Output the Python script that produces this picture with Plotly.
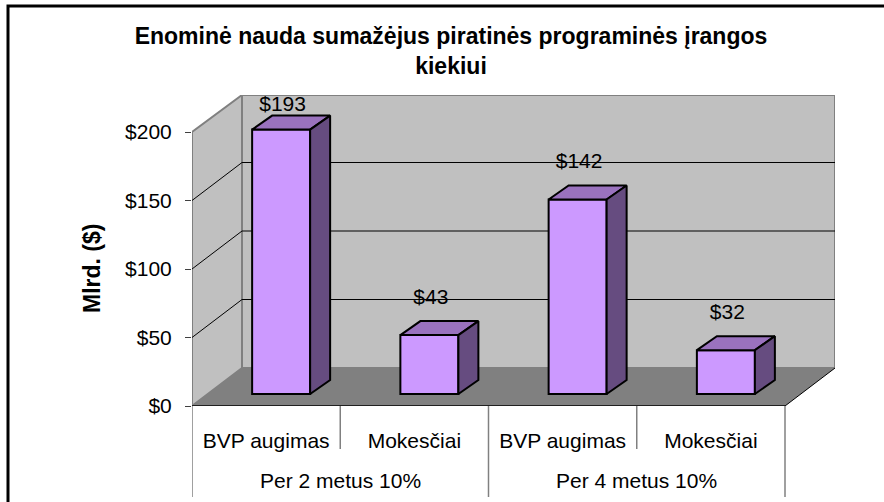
import plotly.graph_objects as go

# chart values
categories = ['BVP augimas', 'Mokesčiai', 'BVP augimas', 'Mokesčiai']
groups = ['Per 2 metus 10%', 'Per 4 metus 10%']
values = [193, 43, 142, 32]
y_ticks = [0, 50, 100, 150, 200]
y_ticklabels = ['$0', '$50', '$100', '$150', '$200']

W, H = 884, 502
LEFT, RIGHT, TOP, BOTTOM = 192, 835, 95, 406
CAT_PX = 148.25
Y_PX = 1.37

# 3D look, everything in axis units
wall_dx = 50 / CAT_PX
wall_dy = 38 / Y_PX
bar_dx = 15 / CAT_PX
bar_dy = 12 / Y_PX
top_dx = 20 / CAT_PX
top_dy = 14 / Y_PX
bar_w = 58 / CAT_PX

x_max = (RIGHT - LEFT) / CAT_PX
y_max = (BOTTOM - TOP) / Y_PX
n = len(categories)
cat_pos = [i + 0.5 for i in range(n)]
bar_pos = [p + bar_dx for p in cat_pos]

FONT = 'Liberation Sans, Arial, sans-serif'
BAR_FRONT = '#CC99FF'
BAR_TOP = '#9A72BE'
BAR_SIDE = '#664C80'
WALL = '#C0C0C0'
FLOOR = '#808080'


def poly(points):
    return 'M ' + ' L '.join(f'{x},{y}' for x, y in points) + ' Z'


def line(x0, y0, x1, y1, color, width, **kw):
    return dict(type='line', x0=x0, y0=y0, x1=x1, y1=y1, layer='below',
                line=dict(color=color, width=width), **kw)


shapes = [
    # back wall, side wall, floor
    dict(type='path', path=poly([(wall_dx, wall_dy), (x_max, wall_dy), (x_max, y_max), (wall_dx, y_max)]),
         fillcolor=WALL, line=dict(color=FLOOR, width=2), layer='below'),
    dict(type='path', path=poly([(0, 0), (wall_dx, wall_dy), (wall_dx, y_max), (0, 200)]),
         fillcolor=WALL, line=dict(color=FLOOR, width=2), layer='below'),
    dict(type='path', path=poly([(0, 0), (n, 0), (x_max, wall_dy), (wall_dx, wall_dy)]),
         fillcolor=FLOOR, line=dict(width=0), layer='below'),
    line(0, 0, n, 0, 'black', 1.5),
    line(n, 0, x_max, wall_dy, 'black', 1),
]
for v in y_ticks[1:-1]:
    shapes.append(line(0, v, wall_dx, v + wall_dy, 'black', 1))
    shapes.append(line(wall_dx, v + wall_dy, x_max, v + wall_dy, 'black', 1))

# dividers under the floor, the group ones run longer
for i in range(n + 1):
    y_end = 497 if i % 2 == 0 else 449
    shapes.append(dict(type='line', xref='x', yref='paper', x0=i, x1=i,
                       y0=1 - BOTTOM / H, y1=1 - y_end / H,
                       line=dict(color=FLOOR, width=1.5)))

# outer frame, cut off by the picture at right and bottom
shapes.append(dict(type='rect', xref='paper', yref='paper', x0=8 / W, x1=1.02, y0=-0.02, y1=1 - 6 / H,
                   line=dict(color='black', width=3), layer='below'))

top_x, top_y, side_x, side_y = [], [], [], []
for p, v in zip(bar_pos, values):
    l, r = p - bar_w / 2, p + bar_w / 2
    t = v + bar_dy
    top_x += [l, r, r + top_dx, l + top_dx, l, None]
    top_y += [t, t, t + top_dy, t + top_dy, t, None]
    side_x += [r, r + top_dx, r + top_dx, r, r, None]
    side_y += [bar_dy, bar_dy + top_dy, t + top_dy, t, bar_dy, None]

label_y = [min(v + 35.5, 219) for v in values]

fig = go.Figure()
fig.add_trace(go.Bar(x=bar_pos, y=values, base=bar_dy, width=bar_w,
                     marker=dict(color=BAR_FRONT, line=dict(color='black', width=2))))
fig.add_trace(go.Scatter(x=top_x, y=top_y, mode='lines', fill='toself', fillcolor=BAR_TOP,
                         line=dict(color='black', width=2)))
fig.add_trace(go.Scatter(x=side_x, y=side_y, mode='lines', fill='toself', fillcolor=BAR_SIDE,
                         line=dict(color='black', width=2)))
fig.add_trace(go.Scatter(x=[p + 0.01 for p in bar_pos], y=label_y, mode='text',
                         text=[f'${v}' for v in values], textposition='middle center',
                         textfont=dict(family=FONT, size=21, color='black')))

annotations = [
    dict(text='Mlrd. ($)', textangle=-90, xref='paper', yref='paper', x=92 / W, y=1 - 269 / H,
         xanchor='center', yanchor='middle', showarrow=False,
         font=dict(family=FONT, size=23, color='black', weight='bold')),
]
for i, g in enumerate(groups):
    annotations.append(dict(text=g, xref='x', yref='paper', x=2 * i + 1, y=1 - 480 / H,
                            xanchor='center', yanchor='middle', showarrow=False,
                            font=dict(family=FONT, size=21, color='black')))

fig.update_layout(
    width=W, height=H,
    margin=dict(l=0, r=0, t=0, b=0),
    paper_bgcolor='white', plot_bgcolor='rgba(0,0,0,0)',
    showlegend=False,
    title=dict(text='Enominė nauda sumažėjus piratinės programinės įrangos<br>kiekiui',
               x=451 / W, xanchor='center', y=1 - 44 / H, yanchor='top', automargin=False,
               font=dict(family=FONT, size=23, color='black', weight='bold')),
    xaxis=dict(domain=[LEFT / W, RIGHT / W], range=[0, x_max], showgrid=False, zeroline=False,
               automargin=False,
               tickvals=cat_pos, ticktext=categories, ticks='outside', ticklen=16,
               tickcolor='rgba(0,0,0,0)', tickfont=dict(family=FONT, size=21, color='black')),
    yaxis=dict(domain=[1 - BOTTOM / H, 1 - TOP / H], range=[0, y_max], showgrid=False, zeroline=False,
               automargin=False,
               tickvals=y_ticks, ticktext=y_ticklabels, ticks='outside', ticklen=6, tickcolor='#404040',
               ticklabelstandoff=9, tickfont=dict(family=FONT, size=21, color='black')),
    shapes=shapes,
    annotations=annotations,
)

# page margin would push the figure off by 8px
fig.write_html("out.html", post_script="document.body.style.margin='0';",
               config={'displayModeBar': False})
